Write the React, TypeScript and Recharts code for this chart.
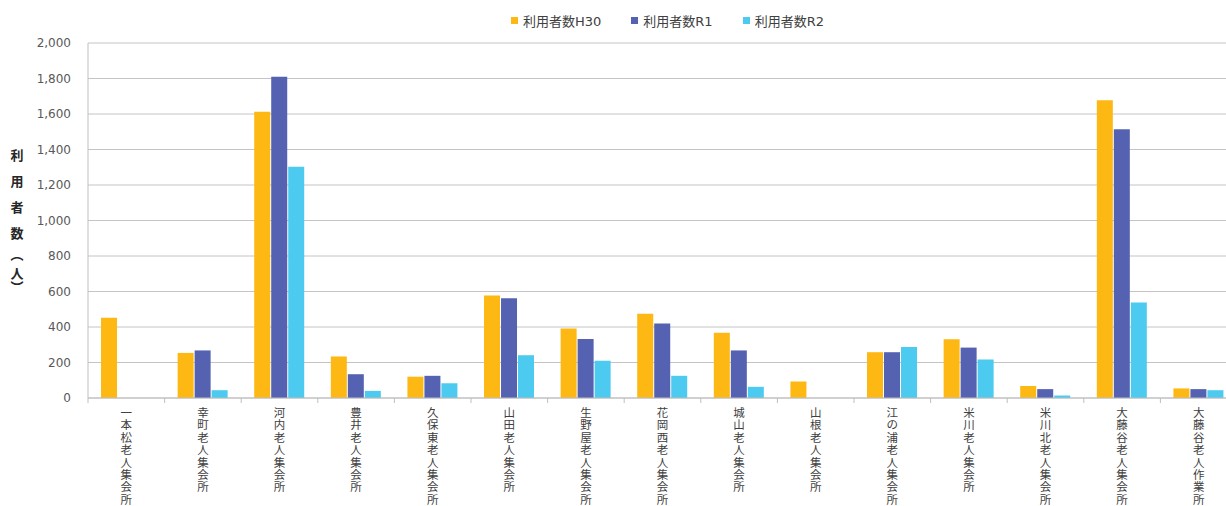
import React from "react";
import { Bar, BarChart, CartesianGrid, XAxis, YAxis } from "recharts";

// facility names (x categories)
const facilities = [
    "一本松老人集会所",
    "幸町老人集会所",
    "河内老人集会所",
    "豊井老人集会所",
    "久保東老人集会所",
    "山田老人集会所",
    "生野屋老人集会所",
    "花岡西老人集会所",
    "城山老人集会所",
    "山根老人集会所",
    "江の浦老人集会所",
    "米川老人集会所",
    "米川北老人集会所",
    "大藤谷老人集会所",
    "大藤谷老人作業所",
];

// users per year
const usersH30 = [452, 254, 1613, 234, 120, 578, 392, 474, 367, 93, 258, 331, 67, 1678, 54];
const usersR1 = [0, 268, 1810, 134, 125, 562, 333, 420, 268, 0, 258, 284, 50, 1514, 50];
const usersR2 = [0, 44, 1303, 40, 83, 241, 210, 125, 63, 0, 288, 217, 14, 538, 44];

const yTicks = [0, 200, 400, 600, 800, 1000, 1200, 1400, 1600, 1800, 2000];

const seriesNames = ["利用者数H30", "利用者数R1", "利用者数R2"];
const seriesColors = ["#FDB813", "#5462B1", "#4DCAF0"];

const yTitle = ["利", "用", "者", "数", "︵", "人", "︶"];

const CHART_W = 1237;
const CHART_H = 506;
const Y_W = 88;
const X_H = 108;
const TOP = 43;
const AXIS_COLOR = "#BFBFBF";
const TEXT_COLOR = "#404040";
const FONT = '"DejaVu Sans", "Noto Sans CJK JP", sans-serif';

const data = facilities.map((name, i) => ({
    name,
    h30: usersH30[i],
    r1: usersR1[i],
    r2: usersR2[i],
}));

const step = (CHART_W - Y_W) / facilities.length;

function FacilityTick(props: any) {
    const { x, payload, index } = props;
    const axisY = CHART_H - X_H;
    const chars = String(payload.value).split("");
    return (
        <g>
            <line x1={x - step / 2} x2={x - step / 2} y1={axisY} y2={axisY + 5} stroke={AXIS_COLOR} />
            {index === facilities.length - 1 && (
                <line x1={x + step / 2} x2={x + step / 2} y1={axisY} y2={axisY + 5} stroke={AXIS_COLOR} />
            )}
            {chars.map((c, i) => (
                <text
                    key={i}
                    x={x}
                    y={axisY + 19 + i * 12.4}
                    textAnchor="middle"
                    fontSize={11.5}
                    fontFamily='"Noto Sans CJK JP", sans-serif'
                    fill={TEXT_COLOR}
                >
                    {c}
                </text>
            ))}
        </g>
    );
}

function YTitle() {
    // stacked vertical title, the brackets sit closer together
    const ys = [160, 186, 212, 238, 259, 278, 292];
    return (
        <g>
            {yTitle.map((c, i) => (
                <text
                    key={i}
                    x={17}
                    y={ys[i]}
                    textAnchor="middle"
                    fontSize={13}
                    fontWeight="bold"
                    fontFamily='"Noto Sans CJK JP", sans-serif'
                    fill="#262626"
                >
                    {c}
                </text>
            ))}
        </g>
    );
}

function LegendBox() {
    return (
        <div
            style={{
                position: "absolute",
                left: 511,
                top: 11,
                display: "flex",
                alignItems: "center",
                fontFamily: FONT,
                fontSize: 13,
                color: TEXT_COLOR,
                whiteSpace: "nowrap",
            }}
        >
            {seriesNames.map((n, i) => (
                <div key={n} style={{ display: "flex", alignItems: "center", marginRight: 30 }}>
                    <span style={{ width: 7, height: 7, background: seriesColors[i], marginRight: 5, display: "inline-block" }} />
                    <span>{n}</span>
                </div>
            ))}
        </div>
    );
}

export default function App() {
    return (
        <div style={{ position: "absolute", left: 0, top: 0, width: 1226, height: 506, overflow: "hidden", background: "#fff" }}>
            <BarChart
                width={CHART_W}
                height={CHART_H}
                data={data}
                margin={{ top: TOP, right: 0, left: 0, bottom: 0 }}
                barCategoryGap="17%"
                barGap={1}
            >
                <CartesianGrid vertical={false} stroke="#C4C4C4" />
                <XAxis
                    dataKey="name"
                    height={X_H}
                    interval={0}
                    tickLine={false}
                    tickSize={0}
                    axisLine={{ stroke: AXIS_COLOR }}
                    tick={<FacilityTick />}
                />
                <YAxis
                    width={Y_W}
                    domain={[0, 2000]}
                    ticks={yTicks}
                    interval={0}
                    tickLine={false}
                    tickSize={0}
                    tickMargin={17}
                    axisLine={{ stroke: AXIS_COLOR }}
                    tick={{ fontSize: 12, fill: "#595959", fontFamily: FONT }}
                    tickFormatter={(v: number) => v.toLocaleString("en-US")}
                    label={{ content: () => <YTitle /> }}
                />
                <Bar dataKey="h30" name={seriesNames[0]} fill={seriesColors[0]} isAnimationActive={false} />
                <Bar dataKey="r1" name={seriesNames[1]} fill={seriesColors[1]} isAnimationActive={false} />
                <Bar dataKey="r2" name={seriesNames[2]} fill={seriesColors[2]} isAnimationActive={false} />
            </BarChart>
            <LegendBox />
        </div>
    );
}
